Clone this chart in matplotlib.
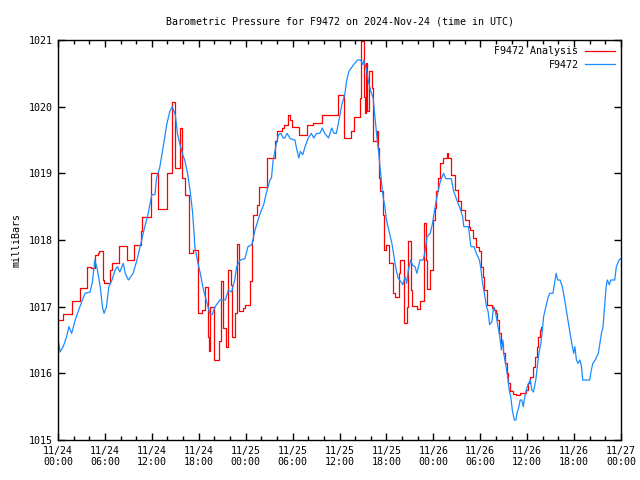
import matplotlib
matplotlib.use("Agg")
import matplotlib.pyplot as plt
from matplotlib.ticker import MultipleLocator

# hours since 2024-11-24 00:00 UTC
analysis_hours = [
    0.0, 0.7, 1.8, 2.8, 3.75, 4.2, 4.7, 5.1, 5.25, 5.7, 5.9, 6.65, 6.9, 7.85, 8.8,
    9.75, 10.6, 10.8, 11.9, 12.8, 13.9, 14.6, 15.0, 15.6, 15.9, 16.2, 16.7, 17.3,
    17.9, 18.4, 18.8, 19.2, 19.35, 19.5, 19.9, 20.6, 20.9, 21.1, 21.5, 21.8, 22.1,
    22.3, 22.6, 22.85, 23.2, 23.6, 23.9, 24.6, 24.8, 25.0, 25.5, 25.7, 26.7, 27.7,
    27.95, 28.6, 28.9, 29.45, 29.7, 29.9, 30.8, 31.8, 32.65, 33.7, 35.85, 36.6,
    37.5, 37.8, 38.6, 38.8, 39.1, 39.25, 39.35, 39.5, 39.8, 40.2, 40.3, 40.75,
    40.95, 41.1, 41.2, 41.6, 41.75, 42.0, 42.3, 42.8, 43.1, 43.6, 43.8, 44.2,
    44.3, 44.6, 44.8, 45.2, 45.3, 45.9, 46.3, 46.8, 47.0, 47.2, 47.6, 47.9, 48.2,
    48.4, 48.65, 48.85, 49.3, 49.7, 49.9, 50.3, 50.8, 51.2, 51.6, 52.0, 52.5,
    52.7, 53.1, 53.5, 53.8, 54.1, 54.3, 54.5, 54.8, 55.5, 55.8, 56.0, 56.2,
    56.45, 56.65, 56.85, 57.2, 57.4, 57.6, 57.8, 58.2, 58.6, 59.1, 59.5, 59.8,
    60.1, 60.4, 60.75, 61.0, 61.2, 61.4, 61.6, 61.8,
]
analysis_mb = [
    1016.8, 1016.89, 1017.08, 1017.28, 1017.6, 1017.58, 1017.78, 1017.8, 1017.83,
    1017.4, 1017.35, 1017.55, 1017.66, 1017.91, 1017.7, 1017.93, 1018.13,
    1018.35, 1019.0, 1018.47, 1019.0, 1020.07, 1019.08, 1019.68, 1018.93,
    1018.68, 1017.8, 1017.85, 1016.9, 1016.95, 1017.3, 1016.55, 1016.33, 1017.0,
    1016.2, 1016.48, 1017.38, 1016.68, 1016.4, 1017.55, 1017.33, 1016.55, 1016.9,
    1017.94, 1016.93, 1016.98, 1017.03, 1017.38, 1018.0, 1018.38, 1018.53,
    1018.8, 1019.23, 1019.48, 1019.63, 1019.68, 1019.73, 1019.87, 1019.8,
    1019.7, 1019.58, 1019.73, 1019.75, 1019.87, 1020.18, 1019.53, 1019.63,
    1019.85, 1020.13, 1020.98, 1020.15, 1019.9, 1020.65, 1019.93, 1020.53,
    1020.28, 1019.48, 1019.63, 1019.38, 1018.93, 1018.73, 1018.38, 1017.85,
    1017.93, 1017.65, 1017.2, 1017.15, 1017.5, 1017.7, 1017.0, 1016.75, 1017.0,
    1017.98, 1017.25, 1017.01, 1016.96, 1017.08, 1018.25, 1017.7, 1017.27,
    1017.55, 1018.3, 1018.48, 1018.73, 1018.93, 1019.15, 1019.23, 1019.3,
    1019.23, 1018.98, 1018.75, 1018.58, 1018.45, 1018.3, 1018.2, 1018.15,
    1018.03, 1017.9, 1017.83, 1017.6, 1017.45, 1017.25, 1017.03, 1016.98,
    1016.95, 1016.9, 1016.8, 1016.6, 1016.45, 1016.3, 1016.15, 1016.0, 1015.85,
    1015.73, 1015.69, 1015.68, 1015.7, 1015.71, 1015.75, 1015.85, 1015.95,
    1016.1, 1016.25, 1016.4, 1016.55, 1016.65, 1016.7,
]

station_hours = [
    0.0, 0.26, 0.7, 1.1, 1.4, 1.75, 2.2, 2.8, 3.45, 4.1, 4.4, 4.7, 5.0, 5.4, 5.7,
    5.9, 6.2, 6.5, 6.9, 7.3, 7.6, 7.9, 8.35, 8.6, 9.0, 9.6, 10.1, 10.6, 11.0,
    11.5, 12.0, 12.4, 12.6, 13.0, 13.5, 13.9, 14.3, 14.6, 15.0, 15.3, 15.6,
    15.95, 16.2, 16.6, 16.9, 17.2, 17.4, 17.5, 17.9, 18.2, 18.6, 19.0, 19.4,
    19.7, 20.1, 20.7, 21.4, 21.8, 22.2, 22.6, 22.85, 23.3, 23.9, 24.3, 24.8,
    25.2, 25.8, 26.3, 26.7, 27.1, 27.3, 27.5, 27.9, 28.2, 28.5, 28.8, 29.0,
    29.3, 29.7, 30.3, 30.5, 30.8, 31.0, 31.3, 31.6, 32.0, 32.4, 32.7, 33.1,
    33.5, 33.8, 34.1, 34.6, 35.0, 35.3, 35.6, 35.9, 36.3, 36.7, 36.9, 37.2,
    37.8, 38.3, 38.7, 39.0, 39.1, 39.4, 39.7, 40.0, 40.3, 40.5, 40.75, 40.95,
    41.2, 41.4, 41.6, 41.8, 42.0, 42.4, 42.7, 42.9, 43.1, 43.3, 43.5, 43.8,
    44.1, 44.4, 44.6, 44.8, 45.1, 45.35, 45.65, 45.9, 46.3, 46.7, 46.9, 47.2,
    47.6, 47.9, 48.2, 48.6, 48.9, 49.3, 49.6, 50.3, 50.6, 51.0, 51.4, 51.75,
    51.9, 52.5, 52.8, 53.2, 53.5, 53.9, 54.1, 54.3, 54.6, 54.8, 55.0, 55.2,
    55.5, 55.7, 55.9, 56.2, 56.5, 56.7, 56.9, 57.0, 57.3, 57.5, 57.7, 57.9,
    58.1, 58.35, 58.55, 58.7, 58.95, 59.1, 59.3, 59.5, 59.7, 59.9, 60.1, 60.4,
    60.6, 60.8, 61.1, 61.3, 61.5, 61.75, 61.95, 62.1, 62.4, 62.7, 62.9, 63.3,
    63.5, 63.7, 63.9, 64.2, 64.5, 64.8, 65.1, 65.5, 65.7, 65.95, 66.1, 66.3,
    66.5, 66.75, 66.95, 67.1, 68.0, 68.2, 68.4, 68.7, 69.1, 69.3, 69.5, 69.7,
    69.9, 70.1, 70.25, 70.5, 70.7, 71.2, 71.4, 71.75, 72.0,
]
station_mb = [
    1016.53, 1016.32, 1016.41, 1016.55, 1016.7, 1016.6, 1016.8, 1017.0, 1017.2,
    1017.22, 1017.37, 1017.7, 1017.58, 1017.3, 1016.98, 1016.9, 1017.0, 1017.3,
    1017.4, 1017.55, 1017.6, 1017.52, 1017.65, 1017.5, 1017.4, 1017.5, 1017.7,
    1017.95, 1018.15, 1018.38, 1018.68, 1018.68, 1018.93, 1019.08, 1019.43,
    1019.73, 1019.93, 1020.0, 1019.88, 1019.58, 1019.43, 1019.28, 1019.2,
    1018.98, 1018.73, 1018.43, 1018.1, 1017.9, 1017.65, 1017.5, 1017.25,
    1017.08, 1016.9, 1016.88, 1017.0, 1017.1, 1017.1, 1017.25, 1017.22, 1017.4,
    1017.6, 1017.7, 1017.72, 1017.9, 1017.93, 1018.15, 1018.38, 1018.53,
    1018.73, 1018.9, 1018.93, 1019.18, 1019.43, 1019.58, 1019.6, 1019.53,
    1019.53, 1019.6, 1019.52, 1019.5, 1019.38, 1019.23, 1019.33, 1019.28,
    1019.4, 1019.53, 1019.6, 1019.53, 1019.6, 1019.6, 1019.68, 1019.6, 1019.53,
    1019.68, 1019.6, 1019.6, 1019.78, 1020.03, 1020.2, 1020.38, 1020.53,
    1020.63, 1020.7, 1020.7, 1020.63, 1020.7, 1020.58, 1020.38, 1020.23,
    1020.13, 1019.88, 1019.58, 1019.38, 1019.08, 1018.83, 1018.63, 1018.5,
    1018.3, 1018.1, 1017.95, 1017.8, 1017.65, 1017.52, 1017.43, 1017.38,
    1017.33, 1017.45, 1017.35, 1017.55, 1017.7, 1017.62, 1017.6, 1017.5, 1017.7,
    1017.7, 1017.8, 1018.05, 1018.1, 1018.25, 1018.48, 1018.73, 1018.88, 1019.0,
    1018.92, 1018.92, 1018.73, 1018.6, 1018.48, 1018.35, 1018.2, 1018.2, 1017.9,
    1017.9, 1017.8, 1017.7, 1017.55, 1017.35, 1017.15, 1017.0, 1016.93, 1016.73,
    1016.78, 1017.0, 1016.95, 1016.75, 1016.55, 1016.35, 1016.5, 1016.3, 1016.1,
    1015.95, 1015.75, 1015.65, 1015.45, 1015.3, 1015.3, 1015.4, 1015.5, 1015.6,
    1015.6, 1015.5, 1015.65, 1015.75, 1015.83, 1015.9, 1015.75, 1015.72, 1015.9,
    1016.1, 1016.3, 1016.45, 1016.65, 1016.85, 1017.0, 1017.15, 1017.2, 1017.2,
    1017.35, 1017.5, 1017.4, 1017.4, 1017.3, 1017.1, 1016.88, 1016.6, 1016.45,
    1016.3, 1016.4, 1016.2, 1016.15, 1016.2, 1016.1, 1015.9, 1015.9, 1016.05,
    1016.15, 1016.2, 1016.3, 1016.45, 1016.6, 1016.7, 1017.0, 1017.3, 1017.4,
    1017.33, 1017.4, 1017.4, 1017.6, 1017.7, 1017.72,
]

tick_hours = [0, 6, 12, 18, 24, 30, 36, 42, 48, 54, 60, 66, 72]
tick_labels = [
    "11/24\n00:00", "11/24\n06:00", "11/24\n12:00", "11/24\n18:00",
    "11/25\n00:00", "11/25\n06:00", "11/25\n12:00", "11/25\n18:00",
    "11/26\n00:00", "11/26\n06:00", "11/26\n12:00", "11/26\n18:00",
    "11/27\n00:00",
]
y_ticks = [1015, 1016, 1017, 1018, 1019, 1020, 1021]

plt.rcParams['font.family'] = ['DejaVu Sans Mono']
plt.rcParams['font.size'] = 7.2

fig = plt.figure(figsize=(6.4, 4.8), dpi=100)
ax = fig.add_axes([58 / 640, 1 - 440 / 480, 563 / 640, 400 / 480])

ax.plot(analysis_hours, analysis_mb, color='#ff0000', lw=0.9,
        drawstyle='steps-post', label='F9472 Analysis')
ax.plot(station_hours, station_mb, color='#1a8cff', lw=0.9, label='F9472')

ax.set_xlim(0, 72)
ax.set_ylim(1015, 1021)
ax.set_xticks(tick_hours)
ax.set_xticklabels(tick_labels)
ax.xaxis.set_minor_locator(MultipleLocator(2))
ax.set_yticks(y_ticks)

ax.tick_params(which='both', direction='in', top=True, right=True, color='black')
ax.tick_params(which='major', length=5, width=1, pad=4)
ax.tick_params(which='minor', length=3, width=1)
for s in ax.spines.values():
    s.set_linewidth(1.0)

ax.set_ylabel('milliBars', labelpad=5)
ax.set_title('Barometric Pressure for F9472 on 2024-Nov-24 (time in UTC)',
             fontsize=7.2, pad=11)

ax.legend(loc='upper right', frameon=False, markerfirst=False, handlelength=3.0,
          handletextpad=0.6, borderaxespad=0.25, labelspacing=0.35)

fig.savefig('out.png', dpi=100)
